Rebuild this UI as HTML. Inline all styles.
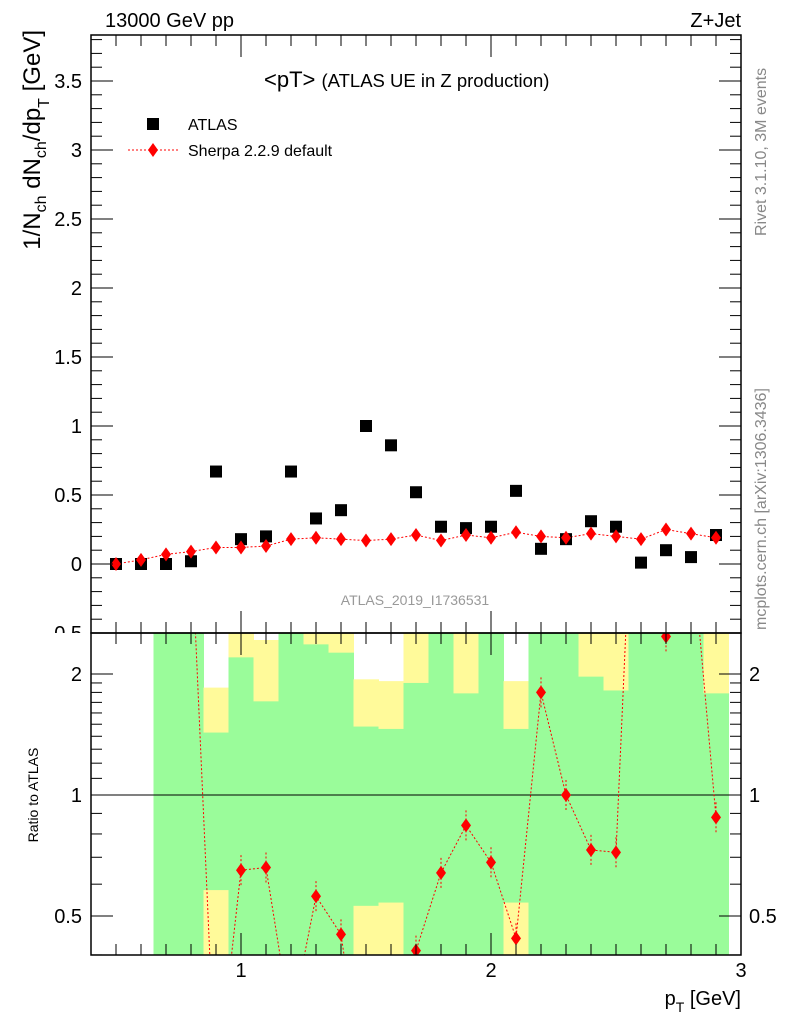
<!DOCTYPE html>
<html><head><meta charset="utf-8"><style>
html,body{margin:0;padding:0;background:#fff;overflow:hidden;width:786px;height:1024px}
svg{display:block;font-family:"Liberation Sans",sans-serif}
</style></head><body>
<svg id="c" width="786" height="1024" viewBox="0 0 786 1024">
<defs><clipPath id="mc"><rect x="0" y="0" width="786" height="633"/></clipPath></defs>
<rect x="0" y="0" width="786" height="1024" fill="#fff"/>
<g id="bands"></g>
<g id="ratioRef"></g>
<g id="main"></g>
<g id="ratio"></g>
<g id="frame"></g>
<text x="105" y="27" font-size="20">13000 GeV pp</text>
<text x="741" y="27" font-size="20" text-anchor="end">Z+Jet</text>
<text x="264" y="87" font-size="22">&lt;pT&gt; <tspan font-size="18.5">(ATLAS UE in Z production)</tspan></text>
<text x="415" y="605" font-size="14" fill="#999" text-anchor="middle">ATLAS_2019_I1736531</text>
<g>
<rect x="147" y="118" width="12" height="12" fill="#000"/>
<text x="188" y="130" font-size="16">ATLAS</text>
<line x1="128" y1="150" x2="178" y2="150" stroke="red" stroke-dasharray="2,2"/>
<path d="M153,143 L158,150 L153,157 L148,150Z" fill="red"/>
<text x="188" y="156" font-size="16">Sherpa 2.2.9 default</text>
</g>
<text transform="translate(40,30) rotate(-90)" font-size="24" text-anchor="end">1/N<tspan font-size="16" dy="6">ch</tspan><tspan dy="-6"> dN</tspan><tspan font-size="16" dy="6">ch</tspan><tspan dy="-6">/dp</tspan><tspan font-size="16" dy="9">T</tspan><tspan dy="-9"> [GeV]</tspan></text>
<text transform="translate(38,795) rotate(-90)" font-size="14" text-anchor="middle">Ratio to ATLAS</text>
<text x="741" y="1005" font-size="20" text-anchor="end">p<tspan font-size="14" dy="7">T</tspan><tspan dy="-7"> [GeV]</tspan></text>
<text transform="translate(766,236) rotate(-90)" font-size="16" fill="#888">Rivet 3.1.10,  3M events</text>
<text transform="translate(766,630) rotate(-90)" font-size="16" fill="#888">mcplots.cern.ch [arXiv:1306.3436]</text>
</svg>
<script>
const xs=[0.5,0.6,0.7,0.8,0.9,1.0,1.1,1.2,1.3,1.4,1.5,1.6,1.7,1.8,1.9,2.0,2.1,2.2,2.3,2.4,2.5,2.6,2.7,2.8,2.9];
const atlasVals=[0.0,0.0,0.0,0.02,0.67,0.18,0.2,0.67,0.33,0.39,1.0,0.86,0.52,0.27,0.26,0.27,0.53,0.11,0.18,0.31,0.27,0.01,0.1,0.05,0.21];
const sherpaVals=[0.0,0.03,0.07,0.09,0.12,0.12,0.13,0.18,0.19,0.18,0.17,0.18,0.21,0.17,0.21,0.19,0.23,0.2,0.19,0.22,0.2,0.18,0.25,0.22,0.19];
const ratioX=[0.8,0.9,1.0,1.1,1.2,1.3,1.4,1.5,1.6,1.7,1.8,1.9,2.0,2.1,2.2,2.3,2.4,2.5,2.6,2.7,2.8,2.9];
const ratioVals=[4.5,0.18,0.65,0.66,0.27,0.56,0.45,0.17,0.21,0.41,0.64,0.84,0.68,0.44,1.80,1.0,0.73,0.72,18,2.48,4.4,0.88];
const bandX=[0.7,0.8,0.9,1.0,1.1,1.2,1.3,1.4,1.5,1.6,1.7,1.8,1.9,2.0,2.1,2.2,2.3,2.4,2.5,2.6,2.7,2.8,2.9];
const greenHi=[3,3,1.43,2.2,1.71,3,2.37,2.26,1.48,1.46,1.9,3,1.79,3,1.46,3,3,1.97,1.82,3,3,3,1.79];
const greenLo=[0.2,0.2,0.58,0.2,0.2,0.2,0.2,0.2,0.53,0.54,0.2,0.2,0.2,0.2,0.54,0.2,0.2,0.2,0.2,0.2,0.2,0.2,0.2];
const yellowHi=[3,3,1.85,3,2.43,3,3,3,1.94,1.92,3,3,3,3,1.92,3,3,3,3,3,3,3,3];
const yellowLo=[0.2,0.2,0.2,0.2,0.2,0.2,0.2,0.2,0.2,0.2,0.2,0.2,0.2,0.2,0.2,0.2,0.2,0.2,0.2,0.2,0.2,0.2,0.2];
const yTicks=[-0.5,0,0.5,1,1.5,2,2.5,3,3.5];
const yTickLabels=["-0.5","0","0.5","1","1.5","2","2.5","3","3.5"];
const rTicks=[0.5,1,2];
const rTickLabels=["0.5","1","2"];
const xTicks=[1,2,3];
const xTickLabels=["1","2","3"];

const NS="http://www.w3.org/2000/svg";
const L=91,R=741,T=35,MB=633,RB=955;
const X=v=>L+(v-0.4)*250;
const Y=v=>564-v*138;
const RY=v=>795-121*Math.log2(v);
function mk(tag,attrs,parent){const e=document.createElementNS(NS,tag);for(const k in attrs)e.setAttribute(k,attrs[k]);parent.appendChild(e);return e;}
const clampR=v=>Math.max(MB,Math.min(RB,v));

const bands=document.getElementById('bands');
bandX.forEach((b,i)=>{
  const x0=X(b-0.05),x1=X(b+0.05);
  const yt=clampR(RY(yellowHi[i])),yb=clampR(RY(yellowLo[i]));
  const y=mk('rect',{x:x0,y:yt,width:x1-x0+0.5,height:yb-yt,fill:'#fffa9a'},bands);
  
  
  const gt=clampR(RY(greenHi[i])),gb=clampR(RY(greenLo[i]));
  const g=mk('rect',{x:x0,y:gt,width:x1-x0+0.5,height:gb-gt,fill:'#9afc9a'},bands);
  
  
});
const rl=mk('line',{x1:L,y1:RY(1),x2:R,y2:RY(1),stroke:'#000','stroke-width':1},document.getElementById('ratioRef'));



const main=document.getElementById('main');
const sp=mk('polyline',{points:xs.map((x,i)=>X(x)+','+Y(sherpaVals[i])).join(' '),fill:'none',stroke:'red','stroke-width':1,'stroke-dasharray':'2,2'},main);


xs.forEach((x,i)=>{
  const a=mk('rect',{x:X(x)-6,y:Y(atlasVals[i])-6,width:12,height:12,fill:'#000'},main);
  
  
  const cx=X(x),cy=Y(sherpaVals[i]);
  const s=mk('path',{d:`M${cx},${cy-7}L${cx+5},${cy}L${cx},${cy+7}L${cx-5},${cy}Z`,fill:'red'},main);
  
  
});

const ratio=document.getElementById('ratio');
const cp=mk('clipPath',{id:'rc'},ratio);
mk('rect',{x:L,y:MB,width:R-L,height:RB-MB},cp);
const rg=mk('g',{'clip-path':'url(#rc)'},ratio);
const rp=mk('polyline',{points:ratioX.map((x,i)=>X(x)+','+RY(ratioVals[i])).join(' '),fill:'none',stroke:'red','stroke-width':1,'stroke-dasharray':'2,2'},rg);


ratioX.forEach((x,i)=>{
  const cx=X(x),cy=RY(ratioVals[i]);
  if(cy<MB-3||cy>RB+3)return;
  const e=mk('line',{x1:cx,y1:RY(ratioVals[i]*1.09),x2:cx,y2:RY(ratioVals[i]/1.09),stroke:'red','stroke-dasharray':'2,2'},rg);
  
  
  const p=mk('path',{d:`M${cx},${cy-7}L${cx+5},${cy}L${cx},${cy+7}L${cx-5},${cy}Z`,fill:'red'},rg);
  
  
});

const fr=document.getElementById('frame');
const f1=mk('rect',{x:L,y:T,width:R-L,height:MB-T,fill:'none',stroke:'#000','stroke-width':1.5},fr);


const f2=mk('rect',{x:L,y:MB,width:R-L,height:RB-MB,fill:'none',stroke:'#000','stroke-width':1.5},fr);


function tk(x1,y1,x2,y2){mk('line',{x1,y1,x2,y2,stroke:'#000','stroke-width':1},fr);}
for(let v=-0.5;v<=3.85;v+=0.1){const y=Y(v);if(y<T||y>MB)continue;const maj=Math.abs(v*2-Math.round(v*2))<1e-6;const l=maj?22:11;tk(L,y,L+l,y);tk(R,y,R-l,y);}
for(let v=0.4;v<=3.0001;v+=0.1){const x=X(v);const maj=Math.abs(v-Math.round(v))<1e-6;const l=maj?22:11;tk(x,MB,x,MB-l);tk(x,T,x,T+l);tk(x,RB,x,RB-l);tk(x,MB,x,MB+l);}
[0.4,0.5,0.6,0.7,0.8,0.9,1,1.1,1.2,1.3,1.4,1.5,1.6,1.7,1.8,1.9,2].forEach(v=>{const y=RY(v);if(y<MB||y>RB)return;const maj=(v===0.5||v===1||v===2);const l=maj?22:11;tk(L,y,L+l,y);tk(R,y,R-l,y);});
const yl=mk('g',{'clip-path':'url(#mc)'},fr);
yTicks.forEach((v,i)=>{const t=mk('text',{x:82,y:Y(v)+7,'font-size':20,'text-anchor':'end'},yl);t.textContent=yTickLabels[i];});
rTicks.forEach((v,i)=>{
  const t=mk('text',{x:82,y:RY(v)+7,'font-size':20,'text-anchor':'end'},fr);t.textContent=rTickLabels[i];
  
  
  const t2=mk('text',{x:749,y:RY(v)+7,'font-size':20},fr);t2.textContent=rTickLabels[i];
  
  
});
xTicks.forEach((v,i)=>{const t=mk('text',{x:X(v),y:977,'font-size':20,'text-anchor':'middle'},fr);t.textContent=xTickLabels[i];});
</script>
</body></html>
